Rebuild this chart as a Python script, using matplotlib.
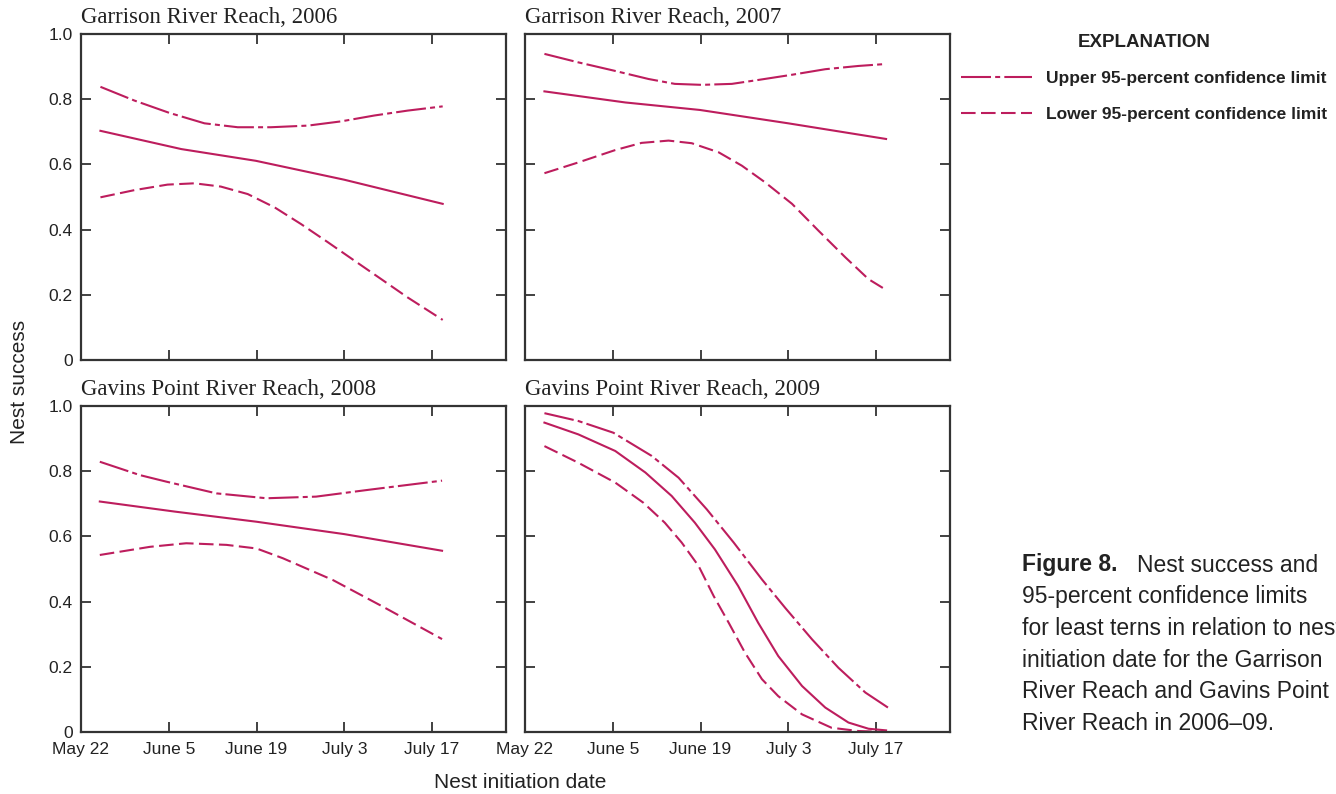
import matplotlib
matplotlib.use("Agg")
import matplotlib.pyplot as plt
from matplotlib.font_manager import FontProperties

# days after May 22 and nest success, estimate plus 95-percent limits
days_2006_est = [3.1, 16.0, 27.9, 42.0, 57.7]
succ_2006_est = [0.703, 0.647, 0.611, 0.553, 0.479]
days_2006_up = [3.1, 8.5, 14.1, 19.7, 25.0, 30.3, 36.2, 41.5, 46.8, 52.1, 57.7]
succ_2006_up = [0.838, 0.796, 0.758, 0.726, 0.714, 0.714, 0.719, 0.732, 0.750, 0.765, 0.778]
days_2006_lo = [3.1, 8.5, 13.8, 18.1, 22.3, 26.6, 30.9, 35.1, 39.4, 43.6, 47.9, 52.1, 57.7]
succ_2006_lo = [0.499, 0.521, 0.538, 0.542, 0.532, 0.509, 0.468, 0.417, 0.361, 0.305,
                0.248, 0.192, 0.123]

days_2007_est = [3.1, 16.0, 27.9, 42.0, 57.6]
succ_2007_est = [0.824, 0.790, 0.767, 0.726, 0.678]
days_2007_up = [3.1, 8.5, 14.1, 19.7, 23.9, 28.2, 33.0, 37.2, 42.6, 47.9, 53.2, 57.6]
succ_2007_up = [0.939, 0.913, 0.888, 0.862, 0.847, 0.844, 0.847, 0.859, 0.875, 0.892,
                0.902, 0.908]
days_2007_lo = [3.1, 8.5, 14.4, 18.6, 22.9, 26.6, 30.9, 34.6, 38.3, 42.6, 46.8, 51.1,
                54.8, 57.6]
succ_2007_lo = [0.573, 0.606, 0.644, 0.666, 0.673, 0.665, 0.637, 0.596, 0.545, 0.479,
                0.397, 0.315, 0.248, 0.215]

days_2008_est = [3.0, 15.0, 28.0, 42.0, 57.6]
succ_2008_est = [0.707, 0.676, 0.645, 0.607, 0.556]
days_2008_up = [3.0, 9.4, 13.6, 21.6, 29.6, 37.5, 45.5, 50.9, 57.6]
succ_2008_up = [0.829, 0.788, 0.768, 0.732, 0.717, 0.722, 0.742, 0.755, 0.771]
days_2008_lo = [3.0, 11.0, 16.8, 23.2, 28.0, 32.2, 40.2, 48.2, 57.6]
succ_2008_lo = [0.543, 0.568, 0.579, 0.574, 0.563, 0.533, 0.466, 0.384, 0.285]

days_2009_est = [3.1, 8.5, 14.4, 19.2, 23.4, 27.1, 30.3, 34.0, 37.2, 40.4, 44.2, 47.9,
                 51.6, 54.8, 57.6]
succ_2009_est = [0.949, 0.913, 0.862, 0.796, 0.724, 0.642, 0.560, 0.448, 0.335, 0.233,
                 0.141, 0.075, 0.029, 0.010, 0.005]
days_2009_up = [3.1, 8.5, 14.1, 20.2, 24.5, 29.0, 33.3, 37.8, 41.5, 45.8, 50.0, 54.3, 57.9]
succ_2009_up = [0.978, 0.954, 0.918, 0.847, 0.780, 0.683, 0.581, 0.468, 0.381, 0.284,
                0.197, 0.121, 0.075]
days_2009_lo = [3.1, 8.5, 14.4, 18.9, 22.3, 25.0, 27.7, 30.1, 32.5, 35.1, 37.8, 40.4,
                44.2, 48.9, 53.2, 57.6]
succ_2009_lo = [0.877, 0.826, 0.765, 0.703, 0.642, 0.581, 0.509, 0.417, 0.335, 0.243,
                0.162, 0.110, 0.054, 0.013, 0.003, 0.0]

titles = ["Garrison River Reach, 2006", "Garrison River Reach, 2007",
          "Gavins Point River Reach, 2008", "Gavins Point River Reach, 2009"]
date_ticks = [0, 14, 28, 42, 56]
date_labels = ["May 22", "June 5", "June 19", "July 3", "July 17"]
y_ticks = [0, 0.2, 0.4, 0.6, 0.8, 1.0]
y_labels = ["0", "0.2", "0.4", "0.6", "0.8", "1.0"]

panels = [
    (days_2006_est, succ_2006_est, days_2006_up, succ_2006_up, days_2006_lo, succ_2006_lo),
    (days_2007_est, succ_2007_est, days_2007_up, succ_2007_up, days_2007_lo, succ_2007_lo),
    (days_2008_est, succ_2008_est, days_2008_up, succ_2008_up, days_2008_lo, succ_2008_lo),
    (days_2009_est, succ_2009_est, days_2009_up, succ_2009_up, days_2009_lo, succ_2009_lo),
]

sans = ["Liberation Sans", "DejaVu Sans"]
plt.rcParams["font.family"] = sans
plt.rcParams["axes.linewidth"] = 1.6
plt.rcParams["axes.edgecolor"] = "#333333"
plt.rcParams["text.color"] = "#222222"
plt.rcParams["xtick.labelcolor"] = "#222222"
plt.rcParams["ytick.labelcolor"] = "#222222"

red = "#BD1D5D"
upper_ls = (0, (14.4, 2.0, 2.4, 2.0))
lower_ls = (0, (7.0, 2.6))

W, H = 1336, 794
fig = plt.figure(figsize=(W / 100, H / 100), dpi=100)

# axes boxes in pixels: left, top
boxes = [(81, 34), (525, 34), (81, 406), (525, 406)]
aw, ah = 425, 326
axs = []
for (l, t) in boxes:
    axs.append(fig.add_axes([l / W, (H - t - ah) / H, aw / W, ah / H]))

for i, ax in enumerate(axs):
    de, se, du, su, dl, sl = panels[i]
    ax.plot(de, se, color=red, lw=1.5)
    up, = ax.plot(du, su, color=red, lw=1.5, ls=upper_ls)
    lo, = ax.plot(dl, sl, color=red, lw=1.5, ls=lower_ls)
    ax.set_xlim(0, 67.8)
    ax.set_ylim(0, 1)
    ax.set_xticks(date_ticks)
    ax.set_yticks(y_ticks)
    ax.tick_params(direction="in", top=True, right=True, length=7, width=1.3,
                   color="#333333", labelsize=12.5)
    ax.tick_params(axis="x", pad=7)
    ax.tick_params(axis="y", pad=6)
    if i % 2 == 0:
        ax.set_yticklabels(y_labels)
    else:
        ax.set_yticklabels([])
    if i >= 2:
        ax.set_xticklabels(date_labels)
    else:
        ax.set_xticklabels([])
    ax.set_title(titles[i], loc="left", fontfamily="Liberation Serif",
                 fontsize=16.5, pad=8, color="#222222")

fig.text(20 / W, 1 - 382 / H, "Nest success", rotation=90, ha="center",
         va="center", fontsize=15)
fig.text(520 / W, 1 - 782 / H, "Nest initiation date", ha="center",
         va="center", fontsize=15)

leg = fig.legend([up, lo], ["Upper 95-percent confidence limit",
                            "Lower 95-percent confidence limit"],
                 loc="upper left", bbox_to_anchor=(961 / W, 1 - 34 / H),
                 frameon=False, handlelength=4.1, handletextpad=0.8,
                 labelspacing=1.24, borderaxespad=0, borderpad=0,
                 prop=FontProperties(family=sans, weight="bold", size=12.5),
                 title="EXPLANATION",
                 title_fontproperties=FontProperties(family=sans, weight="bold", size=13.5))
leg._legend_box.sep = 14

# figure caption
cap = FontProperties(family=sans, size=16.5)
fig.text(1022 / W, 1 - 565 / H, "Figure 8.", fontproperties=FontProperties(
    family=sans, size=16.5, weight="bold"), va="center")
fig.text(1137 / W, 1 - 565 / H, "Nest success and", fontproperties=cap, va="center")
cap_lines = ["95-percent confidence limits", "for least terns in relation to nest",
             "initiation date for the Garrison", "River Reach and Gavins Point",
             "River Reach in 2006\u201309."]
for k, s in enumerate(cap_lines):
    fig.text(1022 / W, 1 - (597 + 31.6 * k) / H, s, fontproperties=cap, va="center")

fig.savefig("out.png", dpi=100)
